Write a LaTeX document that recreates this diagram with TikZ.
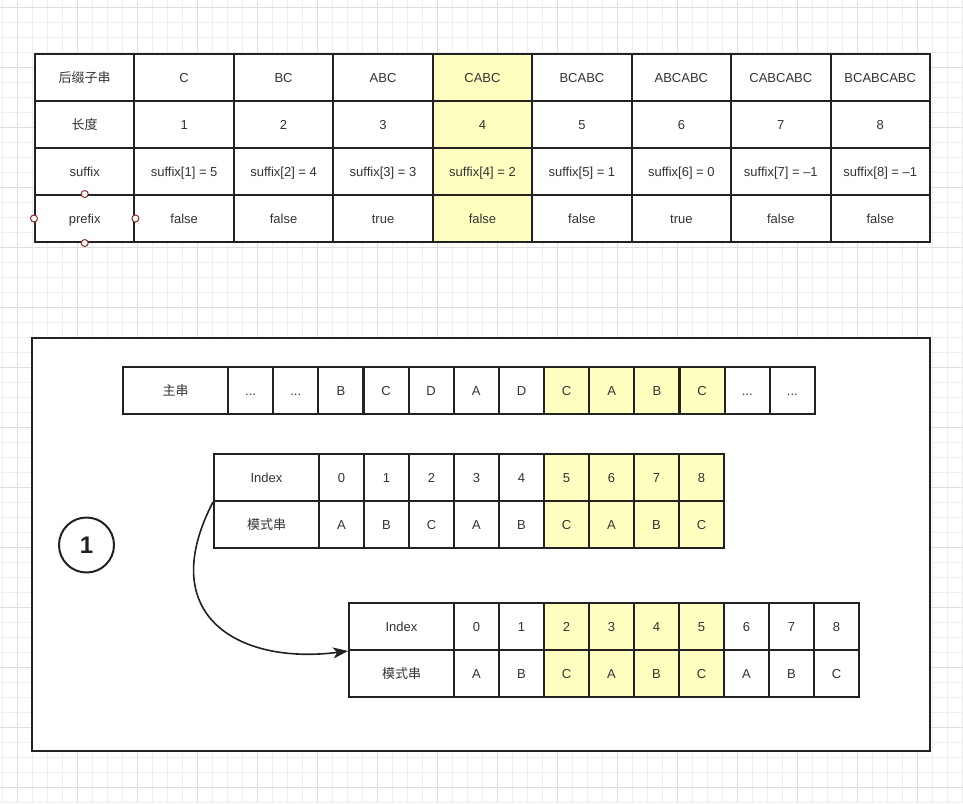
\documentclass[tikz,border=0pt]{standalone}
\usepackage{fontspec}
\setmainfont{Liberation Sans}
\newfontfamily\cjk{Noto Sans CJK SC}
\usetikzlibrary{arrows.meta}
\definecolor{hl}{HTML}{FFFFC0}
\definecolor{ink}{HTML}{222222}
\definecolor{txt}{HTML}{333333}
\definecolor{gminor}{HTML}{EEEEEE}
\definecolor{gmajor}{HTML}{DEDEDE}
\definecolor{handlered}{HTML}{8B2B2B}
\newcommand\tdots{...}
\begin{document}
\begin{tikzpicture}[x=1pt,y=-1pt,
  cell/.style={draw=ink, line width=2pt, fill=white, text=txt, inner sep=0pt,
    text height=9.3pt, text depth=0pt,
    font=\fontsize{13pt}{15pt}\selectfont},
  tcell/.style={cell, minimum width=99.44pt, minimum height=47pt},
  scell/.style={cell, minimum width=45pt, minimum height=47pt},
  lcell/.style={cell, minimum width=105pt, minimum height=47pt},
  handle/.style={circle, draw=handlered, fill=white, line width=1pt, minimum size=7pt, inner sep=0pt},
  gridminor/.style={gminor, line width=1pt},
  gridmajor/.style={gmajor, line width=1pt}]
\useasboundingbox (0,0) rectangle (963,803);
\fill[white] (0,0) rectangle (963,803);
% background grid
\foreach \x in {2.5,17.5,...,962.5} \draw[gridminor] (\x,0) -- (\x,803);
\foreach \y in {7.5,22.5,...,802.5} \draw[gridminor] (0,\y) -- (963,\y);
\foreach \x in {17.5,77.5,...,917.5} \draw[gridmajor] (\x,0) -- (\x,803);
\foreach \y in {7.5,67.5,...,787.5} \draw[gridmajor] (0,\y) -- (963,\y);

% top table
\foreach \i/\t/\f in {0/{\cjk 后缀子串}/white,1/C/white,2/BC/white,3/ABC/white,4/CABC/hl,5/BCABC/white,6/ABCABC/white,7/CABCABC/white,8/BCABCABC/white}
  \node[tcell, fill=\f] (a1-\i) at ({35+99.44*(\i+0.5)},77.5) {\t};
\foreach \i/\t/\f in {0/{\cjk 长度}/white,1/1/white,2/2/white,3/3/white,4/4/hl,5/5/white,6/6/white,7/7/white,8/8/white}
  \node[tcell, fill=\f] (a2-\i) at ({35+99.44*(\i+0.5)},124.5) {\t};
\foreach \i/\t/\f in {0/suffix/white,1/suffix[1] = 5/white,2/suffix[2] = 4/white,3/suffix[3] = 3/white,4/suffix[4] = 2/hl,5/suffix[5] = 1/white,6/suffix[6] = 0/white,7/suffix[7] = –1/white,8/suffix[8] = –1/white}
  \node[tcell, fill=\f] (a3-\i) at ({35+99.44*(\i+0.5)},171.5) {\t};
\foreach \i/\t/\f in {0/prefix/white,1/false/white,2/false/white,3/true/white,4/false/hl,5/false/white,6/true/white,7/false/white,8/false/white}
  \node[tcell, fill=\f] (a4-\i) at ({35+99.44*(\i+0.5)},218.5) {\t};

% selection handles
\node[handle] (h1) at (a4-0.west) {};
\node[handle] (h2) at (a4-0.east) {};
\node[handle] (h3) at (a4-0.north) {};
\node[handle] (h4) at (a4-0.south) {};

% frame
\node[draw=ink, line width=2pt, fill=white, minimum width=898pt, minimum height=413pt, inner sep=0pt] (frame) at (481,544.5) {};

% main string
\node[lcell] (m0) at (175.5,390.5) {\cjk 主串};
\foreach \i/\t/\f in {1/\tdots/white,2/\tdots/white,3/B/white,4/C/white,5/D/white,6/A/white,7/D/white,8/C/hl,9/A/hl,10/B/hl,11/C/hl,12/\tdots/white,13/\tdots/white}
  \node[scell, fill=\f] (m\i) at ({228+45.15*(\i-0.5)},390.5) {\t};

% pattern 1
\node[lcell] (p1i) at (266.5,477.5) {Index};
\node[lcell] (p1m) at (266.5,524.5) {\cjk 模式串};
\foreach \k/\t/\f in {0/A/white,1/B/white,2/C/white,3/A/white,4/B/white,5/C/hl,6/A/hl,7/B/hl,8/C/hl} {
  \node[scell, fill=\f] (q\k) at ({319+45*(\k+0.5)},477.5) {\k};
  \node[scell, fill=\f] (r\k) at ({319+45*(\k+0.5)},524.5) {\t};
}

% pattern 2
\node[lcell] (p2i) at (401.5,626.5) {Index};
\node[lcell] (p2m) at (401.5,673.5) {\cjk 模式串};
\foreach \k/\t/\f in {0/A/white,1/B/white,2/C/hl,3/A/hl,4/B/hl,5/C/hl,6/A/white,7/B/white,8/C/white} {
  \node[scell, fill=\f] (s\k) at ({454+45*(\k+0.5)},626.5) {\k};
  \node[scell, fill=\f] (u\k) at ({454+45*(\k+0.5)},673.5) {\t};
}

% step marker
\node[circle, draw=ink, line width=2pt, minimum size=55pt, inner sep=0pt, text=ink,
  font=\fontsize{24pt}{24pt}\selectfont\bfseries] (one) at (86.5,545) {1};

% arrow
\draw[ink, line width=1.6pt, -{Stealth[length=15pt,width=11pt,inset=4pt]}]
  (p1i.south west) .. controls (154,616) and (239,665) .. (p2i.south west);
\end{tikzpicture}
\end{document}
